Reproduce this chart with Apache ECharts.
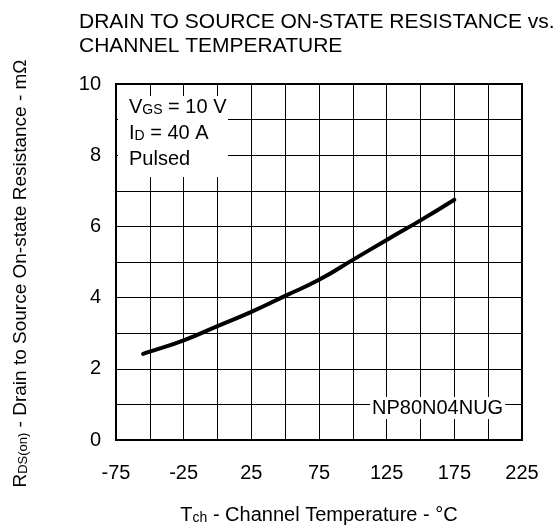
<!DOCTYPE html>
<html>
<head>
<meta charset="utf-8">
<script src="https://cdn.jsdelivr.net/npm/echarts@6/dist/echarts.min.js"></script>
<style>
  html, body { margin: 0; padding: 0; background: #fff; }
  #chart { width: 555px; height: 530px; }
</style>
</head>
<body>
<div id="chart"></div>
<script>
// channel temperature (°C) and RDS(on) (mΩ)
const temps = [-55, -50, -25, 0, 25, 50, 75, 100, 125, 150, 175];
const rdsOn = [2.42, 2.48, 2.8, 3.2, 3.6, 4.05, 4.5, 5.06, 5.62, 6.17, 6.75];

const xTicks = [-75, -25, 25, 75, 125, 175, 225];
const yTicks = [0, 2, 4, 6, 8, 10];

const font = 'Liberation Sans, Arial, sans-serif';

const chart = echarts.init(document.getElementById('chart'));

chart.setOption({
  animation: false,
  backgroundColor: '#fff',
  textStyle: { fontFamily: font, color: '#000' },
  title: {
    text: 'DRAIN TO SOURCE ON-STATE RESISTANCE vs.\nCHANNEL TEMPERATURE',
    left: 79,
    top: 10,
    padding: 0,
    textStyle: { fontFamily: font, fontSize: 21, fontWeight: 'normal', color: '#000', lineHeight: 24 }
  },
  grid: {
    left: 116, right: 33, top: 84, bottom: 86,
    show: true, borderColor: '#000', borderWidth: 2
  },
  xAxis: {
    type: 'value',
    min: -75, max: 225, interval: 25,
    axisLine: { show: false },
    axisTick: { show: false },
    splitLine: { lineStyle: { color: '#000', width: 1 } },
    axisLabel: {
      margin: 23, fontSize: 20, color: '#000', fontFamily: font,
      formatter: v => (xTicks.includes(v) ? String(v) : '')
    },
    name: '{m|T}{s|ch}{m| - Channel Temperature - °C}',
    nameLocation: 'middle',
    nameGap: 61,
    nameTextStyle: {
      rich: {
        m: { fontSize: 20, fontFamily: font, color: '#000', lineHeight: 24, verticalAlign: 'bottom' },
        s: { fontSize: 14, fontFamily: font, color: '#000', lineHeight: 20, verticalAlign: 'bottom' }
      }
    }
  },
  yAxis: {
    type: 'value',
    min: 0, max: 10, interval: 1,
    axisLine: { show: false },
    axisTick: { show: false },
    splitLine: { lineStyle: { color: '#000', width: 1 } },
    axisLabel: {
      margin: 15, fontSize: 20, color: '#000', fontFamily: font,
      formatter: v => (yTicks.includes(v) ? String(v) : '')
    },
    name: '{m|R}{s|DS(on)}{m| - Drain to Source On-state Resistance - mΩ}',
    nameLocation: 'middle',
    nameGap: 86,
    nameTextStyle: {
      padding: [0, 23, 0, 0],
      rich: {
        m: { fontSize: 19, fontFamily: font, color: '#000', lineHeight: 23, verticalAlign: 'bottom' },
        s: { fontSize: 13, fontFamily: font, color: '#000', lineHeight: 19, verticalAlign: 'bottom' }
      }
    }
  },
  graphic: [
    {
      type: 'rect', z: 50,
      shape: { x: 118, y: 96, width: 110, height: 81 },
      style: { fill: '#fff' }
    },
    {
      type: 'text', z: 51, left: 129, top: 97,
      style: {
        text: '{m|V}{s|GS}{m| = 10 V}\n{m|I}{s|D}{m| = 40 A}\n{m|Pulsed}',
        rich: {
          m: { fontSize: 20, fontFamily: font, fill: '#000', lineHeight: 26, verticalAlign: 'bottom' },
          s: { fontSize: 14, fontFamily: font, fill: '#000', lineHeight: 20, verticalAlign: 'bottom' }
        }
      }
    },
    {
      type: 'text', z: 51, left: 370, top: 397,
      style: {
        text: 'NP80N04NUG',
        fontSize: 20, fontFamily: font, fill: '#000',
        backgroundColor: '#fff', padding: [1, 2, 1, 2]
      }
    }
  ],
  series: [{
    type: 'line',
    data: temps.map((t, i) => [t, rdsOn[i]]),
    smooth: true,
    symbol: 'none',
    lineStyle: { color: '#000', width: 4, cap: 'round' }
  }]
});
</script>
</body>
</html>
